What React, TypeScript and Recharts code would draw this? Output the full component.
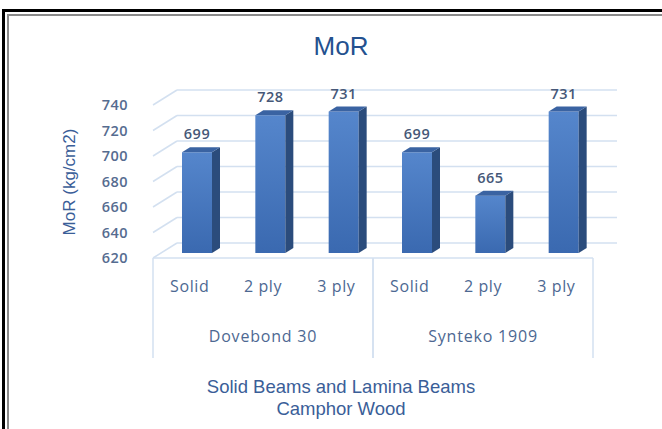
import React from 'react';
import { BarChart, Bar, XAxis, YAxis, CartesianGrid, LabelList } from 'recharts';

const categories = ['Solid', '2 ply', '3 ply', 'Solid', '2 ply', '3 ply'];
const groups = ['Dovebond 30', 'Dovebond 30', 'Dovebond 30', 'Synteko 1909', 'Synteko 1909', 'Synteko 1909'];
const morValues = [699, 728, 731, 699, 665, 731];
const yTicks = [620, 640, 660, 680, 700, 720, 740];

const data = categories.map((c, i) => ({ idx: i, type: c, group: groups[i], mor: morValues[i] }));

const W = 662;
const H = 429;
const WALL_DX = 24;
const WALL_DY = 15;
const BAR_SHIFT_X = 7;
const BAR_SHIFT_Y = 5;
const BAR_DX = 8;
const BAR_DY = 5;
const BAND = 440 / 6;
const GRID = '#d3e0f0';
const TICK_COLOR = '#566c90';
const LABEL_FONT = '"Open Sans", "DejaVu Sans", sans-serif';

const Bar3D = (props: any) => {
  const { x, y, width, height, index } = props;
  if (x == null || height == null) return null;
  const fx = x + BAR_SHIFT_X;
  const fy = y - BAR_SHIFT_Y;
  const id = `barGrad${index}`;
  return (
    <g>
      <defs>
        <linearGradient id={id} x1="0" y1="0" x2="0" y2="1">
          <stop offset="0%" stopColor="#5586cc" />
          <stop offset="100%" stopColor="#3a69b0" />
        </linearGradient>
      </defs>
      <rect x={fx} y={fy} width={width} height={height} fill={`url(#${id})`} />
      <path
        d={`M${fx + width},${fy} L${fx + width + BAR_DX},${fy - BAR_DY} L${fx + width + BAR_DX},${fy + height - BAR_DY} L${fx + width},${fy + height} Z`}
        fill="#2b4c7c"
      />
      <path
        d={`M${fx},${fy} L${fx + BAR_DX},${fy - BAR_DY} L${fx + width + BAR_DX},${fy - BAR_DY} L${fx + width},${fy} Z`}
        fill="#3a63a2"
      />
    </g>
  );
};

const ValueLabel = (props: any) => {
  const { x, y, width, value } = props;
  return (
    <text
      x={x + width / 2 + BAR_SHIFT_X}
      y={y - 23}
      dy="0.35em"
      textAnchor="middle"
      fill="#465878"
      fontFamily={LABEL_FONT}
      fontWeight={600}
      fontSize={14.5}
      letterSpacing={0.5}
    >
      {value}
    </text>
  );
};

const gridLine = (props: any) => {
  const { x1, y1, x2, y2 } = props;
  return (
    <g key={`g-${y1}`}>
      <line x1={x1 + WALL_DX} y1={y1 - WALL_DY} x2={x2 + WALL_DX} y2={y2 - WALL_DY} stroke={GRID} strokeWidth={1.5} />
      <line x1={x1} y1={y1} x2={x1 + WALL_DX} y2={y1 - WALL_DY} stroke={GRID} strokeWidth={1.5} />
    </g>
  );
};

const CategoryTick = (props: any) => {
  const { x, y, payload, index } = props;
  const items: any[] = [];
  items.push(
    <text key="c" x={x} y={y + 28} dy="0.35em" textAnchor="middle" fill="#4d6892" fontFamily={LABEL_FONT} fontSize={16} letterSpacing={0.6}>
      {payload.value}
    </text>
  );
  if (index % 3 === 0) {
    items.push(<line key="l" x1={x - BAND / 2} y1={y} x2={x - BAND / 2} y2={y + 100} stroke={GRID} strokeWidth={1.5} />);
  }
  if (index % 3 === 2) {
    items.push(<line key="r" x1={x + BAND / 2} y1={y} x2={x + BAND / 2} y2={y + 100} stroke={GRID} strokeWidth={1.5} />);
  }
  if (index % 3 === 1) {
    items.push(
      <text key="t" x={x} y={y + 78} dy="0.35em" textAnchor="middle" fill="#4d6892" fontFamily={LABEL_FONT} fontSize={16} letterSpacing={0.8}>
        {groups[index]}
      </text>
    );
  }
  return <g>{items}</g>;
};

export default function App() {
  return (
    <div style={{ position: 'absolute', left: 0, top: 0, width: W, height: H, background: '#fff', overflow: 'hidden' }}>
      <div style={{ position: 'absolute', left: 2, top: 9, width: W, height: 3, background: '#000' }} />
      <div style={{ position: 'absolute', left: 2, top: 9, width: 3, height: H, background: '#000' }} />
      <div style={{ position: 'absolute', left: 7, top: 14, width: W, height: 2, background: '#8a8a8a' }} />
      <div style={{ position: 'absolute', left: 7, top: 14, width: 2, height: H, background: '#8a8a8a' }} />
      <div style={{ position: 'absolute', left: 0, top: 0 }}>
        <BarChart width={W} height={H} data={data} margin={{ top: 105, right: 69, bottom: 71, left: 93 }}>
          <CartesianGrid xAxisId="type" vertical={false} horizontal={gridLine} />
          <XAxis
            xAxisId="type"
            dataKey="type"
            height={100}
            tickSize={0}
            tickMargin={0}
            tickLine={false}
            axisLine={{ stroke: GRID, strokeWidth: 1.5 }}
            tick={<CategoryTick />}
            interval={0}
          />
          <YAxis
            domain={[620, 740]}
            ticks={yTicks}
            width={60}
            tickSize={0}
            tickMargin={25}
            tickLine={false}
            axisLine={false}
            tick={{ fill: TICK_COLOR, fontFamily: LABEL_FONT, fontWeight: 600, fontSize: 14.5, letterSpacing: 0.5 }}
          />
          <Bar xAxisId="type" dataKey="mor" barSize={30} shape={<Bar3D />} isAnimationActive={false}>
            <LabelList dataKey="mor" content={<ValueLabel />} />
          </Bar>
        </BarChart>
      </div>
      <div
        style={{
          position: 'absolute', left: 241, width: 200, top: 30, textAlign: 'center',
          fontFamily: '"Liberation Sans", Arial, sans-serif', fontSize: 26, color: '#24518f', lineHeight: '32px',
        }}
      >
        MoR
      </div>
      <div
        style={{
          position: 'absolute', left: 70 - 90, top: 182 - 12, width: 180, height: 24, lineHeight: '24px',
          textAlign: 'center', transform: 'rotate(-90deg)', transformOrigin: '90px 12px',
          fontFamily: '"Liberation Sans", Arial, sans-serif', fontSize: 17, color: '#3a5e98', whiteSpace: 'nowrap',
        }}
      >
        MoR (kg/cm2)
      </div>
      <div
        style={{
          position: 'absolute', left: 141, width: 400, top: 376, textAlign: 'center',
          fontFamily: '"Liberation Sans", Arial, sans-serif', fontSize: 18.5, color: '#3a5e98', lineHeight: '22px',
        }}
      >
        Solid Beams and Lamina Beams
        <br />
        Camphor Wood
      </div>
    </div>
  );
}
